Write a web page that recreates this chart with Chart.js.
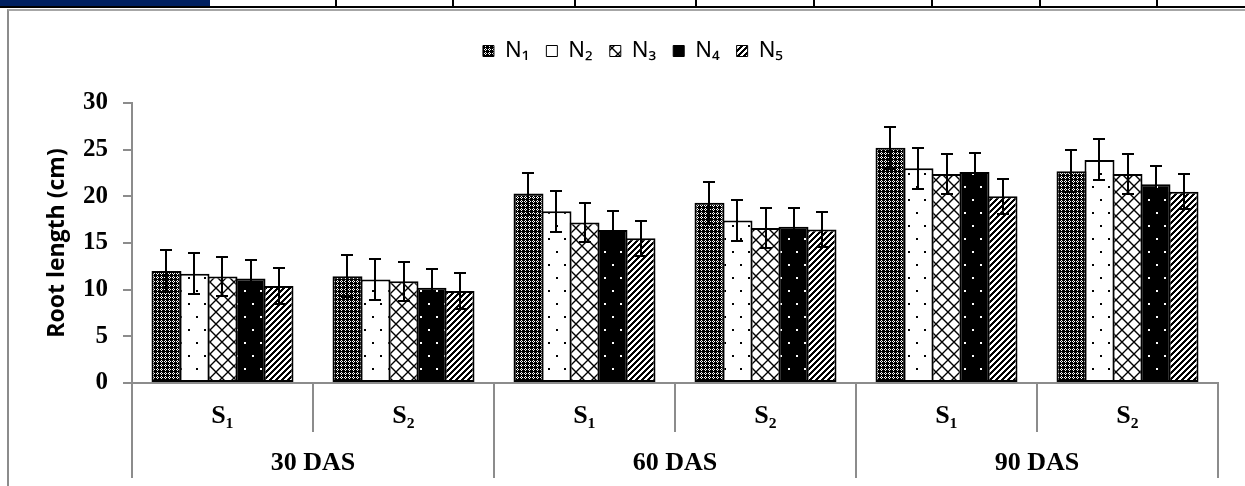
<!DOCTYPE html>
<html>
<head>
<meta charset="utf-8">
<script src="https://cdn.jsdelivr.net/npm/chart.js@4.4.1/dist/chart.umd.min.js"></script>
<style>
html,body{margin:0;padding:0;background:#fff;}
#wrap{position:relative;width:1245px;height:486px;overflow:hidden;background:#fff;}
#navy{position:absolute;left:0;top:0;width:210px;height:6px;background:#002060;}
#hline{position:absolute;left:0;top:6px;width:1245px;height:2px;background:#000;}
.dv{position:absolute;top:0;width:2px;height:6px;background:#000;}
#frame{position:absolute;left:7px;top:9px;width:1300px;height:520px;border-left:2px solid #8c8c8c;border-top:2px solid #a6a6a6;}
#c{position:absolute;left:0;top:0;}
</style>
</head>
<body>
<div id="wrap">
  <div id="navy"></div>
  <div id="hline"></div>
  <div class="dv" style="left:335px"></div>
  <div class="dv" style="left:452px"></div>
  <div class="dv" style="left:574px"></div>
  <div class="dv" style="left:695px"></div>
  <div class="dv" style="left:813px"></div>
  <div class="dv" style="left:931px"></div>
  <div class="dv" style="left:1039px"></div>
  <div class="dv" style="left:1156px"></div>
  <div id="frame"></div>
  <canvas id="c" width="1245" height="486" style="width:1245px;height:486px"></canvas>
</div>
<script>
// ---- data ----
const categories = ['S\u2081', 'S\u2082', 'S\u2081', 'S\u2082', 'S\u2081', 'S\u2082'];
const groupLabels = ['30 DAS', '60 DAS', '90 DAS'];
const seriesNames = ['N\u2081', 'N\u2082', 'N\u2083', 'N\u2084', 'N\u2085'];
const yTickValues = [0, 5, 10, 15, 20, 25, 30];

const n1 = [12.0, 11.45, 20.3, 19.3, 25.2, 22.7];
const n2 = [11.7, 11.1, 18.4, 17.4, 23.0, 23.9];
const n3 = [11.4, 10.9, 17.2, 16.6, 22.4, 22.4];
const n4 = [11.2, 10.2, 16.4, 16.75, 22.6, 21.3];
const n5 = [10.4, 9.85, 15.5, 16.45, 20.0, 20.5];

const n1Err = [2.25, 2.25, 2.25, 2.25, 2.25, 2.25];
const n2Err = [2.2, 2.2, 2.2, 2.2, 2.2, 2.2];
const n3Err = [2.1, 2.1, 2.1, 2.1, 2.1, 2.1];
const n4Err = [2.0, 2.0, 2.0, 2.0, 2.0, 2.0];
const n5Err = [1.9, 1.9, 1.9, 1.9, 1.9, 1.9];

// ---- patterns ----
function pixelPattern(w, h, isBlack) {
  const c = document.createElement('canvas');
  c.width = w; c.height = h;
  const g = c.getContext('2d');
  const img = g.createImageData(w, h);
  for (let y = 0; y < h; y++) {
    for (let x = 0; x < w; x++) {
      const v = isBlack(x, y) ? 0 : 255;
      const k = (y * w + x) * 4;
      img.data[k] = v; img.data[k + 1] = v; img.data[k + 2] = v; img.data[k + 3] = 255;
    }
  }
  g.putImageData(img, 0, 0);
  return g.createPattern(c, 'repeat');
}
function strokePattern(w, h, draw) {
  const c = document.createElement('canvas');
  c.width = w; c.height = h;
  const g = c.getContext('2d');
  g.fillStyle = '#fff'; g.fillRect(0, 0, w, h);
  g.strokeStyle = '#000';
  draw(g);
  return g.createPattern(c, 'repeat');
}
const dotAt = (x, y) => ((x >= 4 && x < 6 && y >= 4 && y < 6) || (x >= 12 && x < 14 && y >= 17 && y < 19));
const n1White = (x, y) => ((x === 1 && y === 0) || (x === 0 && y === 1) || (x === 2 && y === 1) || (x === 1 && y === 2));
const patN1 = pixelPattern(4, 4, (x, y) => !n1White(x, y));
const patN2 = pixelPattern(16, 26, (x, y) => dotAt(x, y));
const patN3 = strokePattern(12, 12, g => {
  g.lineWidth = 1.4;
  g.beginPath();
  g.moveTo(-1, 13); g.lineTo(13, -1);
  g.moveTo(-1, -1); g.lineTo(13, 13);
  g.stroke();
});
const patN4 = pixelPattern(16, 26, (x, y) => !dotAt(x, y));
const patN5 = pixelPattern(6, 6, (x, y) => ((x + y) % 6) < 3);

const seriesData = [n1, n2, n3, n4, n5];
const seriesErr = [n1Err, n2Err, n3Err, n4Err, n5Err];
const seriesFill = [patN1, patN2, patN3, patN4, patN5];

const datasets = seriesNames.map((name, i) => ({
  label: name,
  data: seriesData[i],
  errors: seriesErr[i],
  backgroundColor: seriesFill[i],
  borderColor: '#000',
  borderWidth: 2,
  borderSkipped: false,
  categoryPercentage: 0.7735,
  barPercentage: 1.0714
}));

// ---- plugins ----
const legendSpacer = {
  id: 'legendSpacer',
  beforeInit(chart) {
    const lg = chart.legend;
    if (lg && !lg._patched) {
      const orig = lg.fit.bind(lg);
      lg.fit = function () { orig(); this.height += 31; };
      lg._patched = true;
    }
  }
};

const errorBars = {
  id: 'errorBars',
  afterDatasetsDraw(chart) {
    const ctx = chart.ctx;
    const ys = chart.scales.y;
    ctx.save();
    ctx.strokeStyle = '#000';
    ctx.lineWidth = 2;
    chart.data.datasets.forEach((ds, i) => {
      const meta = chart.getDatasetMeta(i);
      if (meta.hidden) return;
      meta.data.forEach((bar, j) => {
        const v = ds.data[j], e = ds.errors[j];
        const x = Math.round(bar.x);
        const yt = Math.round(ys.getPixelForValue(v + e));
        const yb = Math.round(ys.getPixelForValue(v - e));
        ctx.beginPath();
        ctx.moveTo(x, yt); ctx.lineTo(x, yb);
        ctx.moveTo(x - 6, yt); ctx.lineTo(x + 6, yt);
        ctx.moveTo(x - 6, yb); ctx.lineTo(x + 6, yb);
        ctx.stroke();
      });
    });
    ctx.restore();
  }
};

const gridGray = '#8c8c8c';
const serifBold = (size) => ({ family: "'Liberation Serif', 'Times New Roman', serif", weight: 'bold', size: size });

new Chart(document.getElementById('c'), {
  type: 'bar',
  data: { labels: categories, datasets: datasets },
  plugins: [legendSpacer, errorBars],
  options: {
    responsive: false,
    animation: false,
    layout: { padding: { left: 48, right: 27, top: 23, bottom: 0 } },
    plugins: {
      tooltip: { enabled: false },
      legend: {
        position: 'top',
        labels: {
          boxWidth: 11,
          boxHeight: 11,
          padding: 17,
          color: '#000',
          font: { family: "'Noto Sans', 'Open Sans', sans-serif", size: 22 },
          generateLabels(chart) {
            const items = Chart.defaults.plugins.legend.labels.generateLabels(chart);
            items.forEach(it => { it.lineWidth = 1; });
            return items;
          }
        }
      }
    },
    scales: {
      y: {
        min: 0, max: 30,
        afterBuildTicks(scale) { scale.ticks = yTickValues.map(v => ({ value: v })); },
        afterFit(scale) { scale.width = 84; },
        grid: { drawOnChartArea: false, drawTicks: true, tickLength: 9, color: gridGray, lineWidth: 2 },
        border: { display: true, color: gridGray, width: 2 },
        ticks: { padding: 15, color: '#000', font: serifBold(25) },
        title: {
          display: true,
          text: 'Root length (cm)',
          color: '#000',
          padding: { top: -4, bottom: 0 },
          font: { family: "'Open Sans', 'Noto Sans', sans-serif", weight: 'bold', size: 23 }
        }
      },
      x: {
        type: 'category',
        position: 'bottom',
        weight: 0,
        offset: true,
        afterFit(scale) { scale.height = 49; },
        grid: { offset: true, drawOnChartArea: false, drawTicks: true, tickLength: 49, color: gridGray, lineWidth: 2 },
        border: { display: true, color: gridGray, width: 2 },
        ticks: { padding: -31, color: '#000', font: serifBold(26), maxRotation: 0, autoSkip: false }
      },
      x2: {
        type: 'category',
        position: 'bottom',
        weight: 1,
        labels: groupLabels,
        offset: true,
        afterFit(scale) { scale.height = 54; },
        grid: { offset: true, drawOnChartArea: false, drawTicks: true, tickLength: 46, color: gridGray, lineWidth: 2 },
        border: { display: false },
        ticks: { padding: -30, color: '#000', font: serifBold(26), maxRotation: 0, autoSkip: false }
      }
    }
  }
});
</script>
</body>
</html>
